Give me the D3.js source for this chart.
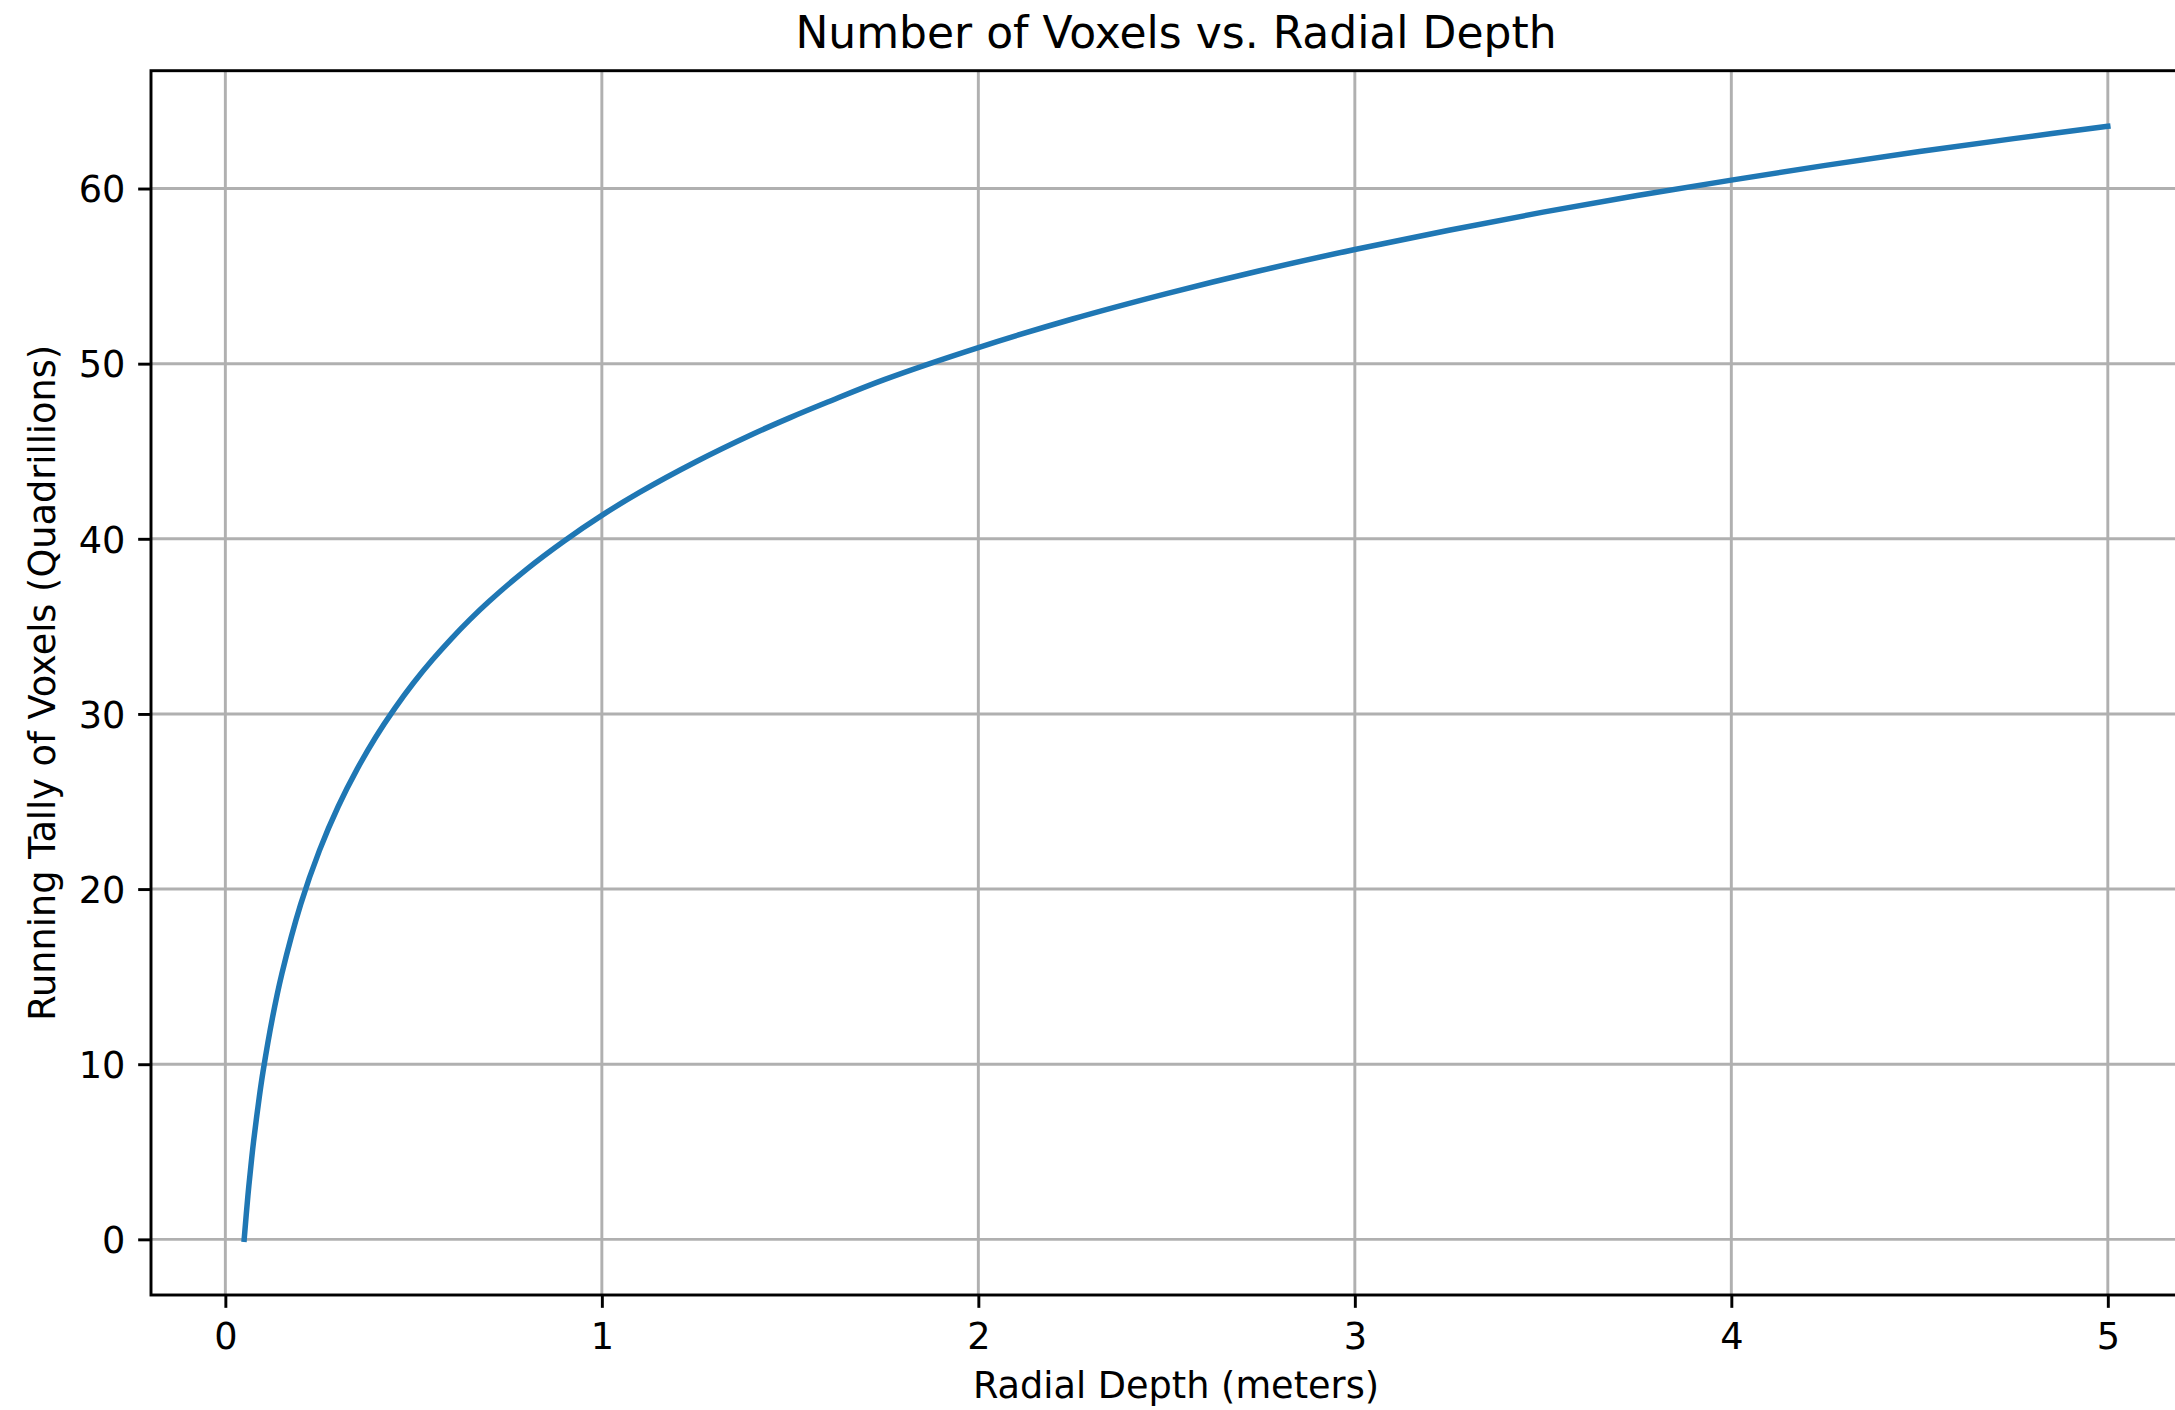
<!DOCTYPE html>
<html>
<head>
<meta charset="utf-8">
<script src="https://cdn.jsdelivr.net/npm/d3@7"></script>
<style>
  html, body { margin: 0; padding: 0; background: #fff; }
  svg { display: block; font-family: "DejaVu Sans", sans-serif; }
</style>
</head>
<body>
<svg class="main" width="2175" height="1410"></svg>
<script>
(function () {
  'use strict';

  // depth (m) vs running tally (quadrillions)
  const depths = [0.05, 0.06, 0.07, 0.075, 0.09, 0.1, 0.125, 0.15, 0.2, 0.25, 0.3, 0.35, 0.4,
    0.45, 0.5, 0.55, 0.6, 0.65, 0.7, 0.8, 0.9, 1.0, 1.1, 1.25, 1.4, 1.5, 1.6, 1.75,
    2.0, 2.25, 2.5, 2.75, 3.0, 3.25, 3.5, 3.75, 4.0, 4.25, 4.5, 4.75, 5.0];
  const tally = [0, 2.52, 4.64, 5.6, 8.11, 9.57, 12.64, 15.16, 19.13, 22.21, 24.73, 26.85, 28.7,
    30.32, 31.78, 33.09, 34.29, 35.4, 36.42, 38.26, 39.88, 41.34, 42.65, 44.4, 45.97, 46.92, 47.81, 49.09,
    50.92, 52.55, 54.0, 55.32, 56.52, 57.62, 58.65, 59.6, 60.48, 61.32, 62.11, 62.85, 63.55];
  const xTicks = [0, 1, 2, 3, 4, 5];
  const yTicks = [0, 10, 20, 30, 40, 50, 60];

  const title = "Number of Voxels vs. Radial Depth";
  const xLabel = "Radial Depth (meters)";
  const yLabel = "Running Tally of Voxels (Quadrillions)";

  const pt = 264 / 72; // px per point
  const margin = { left: 151, top: 70.7, right: 2201, bottom: 1295 };

  const points = depths.map((d, i) => ({ x: d, y: tally[i] }));

  // matplotlib style 5% padding
  const xPad = (d3.max(depths) - d3.min(depths)) * 0.05;
  const yPad = (d3.max(tally) - d3.min(tally)) * 0.05;

  const x = d3.scaleLinear()
    .domain([d3.min(depths) - xPad, d3.max(depths) + xPad])
    .range([margin.left, margin.right]);
  const y = d3.scaleLinear()
    .domain([d3.min(tally) - yPad, d3.max(tally) + yPad])
    .range([margin.bottom, margin.top]);

  const svg = d3.select("svg.main");
  const fontSize = 10 * pt;

  // grid
  const grid = svg.append("g")
    .attr("stroke", "#b0b0b0")
    .attr("stroke-width", 0.8 * pt);
  xTicks.forEach(t => {
    grid.append("line")
      .attr("x1", x(t)).attr("x2", x(t))
      .attr("y1", margin.top).attr("y2", margin.bottom);
  });
  yTicks.forEach(t => {
    grid.append("line")
      .attr("x1", margin.left).attr("x2", margin.right)
      .attr("y1", y(t)).attr("y2", y(t));
  });

  // the curve
  const line = d3.line()
    .x(d => x(d.x))
    .y(d => y(d.y))
    .curve(d3.curveCatmullRom.alpha(0.5));

  svg.append("path")
    .attr("d", line(points))
    .attr("fill", "none")
    .attr("stroke", "#1f77b4")
    .attr("stroke-width", 1.5 * pt)
    .attr("stroke-linecap", "square");

  // axes via d3
  const xAxis = d3.axisBottom(x)
    .tickValues(xTicks)
    .tickFormat(d3.format("d"))
    .tickSize(3.5 * pt)
    .tickPadding(3.5 * pt);
  const yAxis = d3.axisLeft(y)
    .tickValues(yTicks)
    .tickFormat(d3.format("d"))
    .tickSize(3.5 * pt)
    .tickPadding(3.5 * pt);

  const gx = svg.append("g")
    .attr("transform", `translate(0, ${margin.bottom})`)
    .call(xAxis);
  const gy = svg.append("g")
    .attr("transform", `translate(${margin.left}, 0)`)
    .call(yAxis);

  [gx, gy].forEach(g => {
    g.select(".domain").remove();
    g.selectAll(".tick line")
      .attr("stroke", "#000")
      .attr("stroke-width", 0.8 * pt);
    g.selectAll(".tick text")
      .attr("fill", "#000")
      .style("font-size", `${fontSize}px`)
      .style("font-family", "DejaVu Sans");
  });
  gx.selectAll(".tick text").attr("dy", "0.76em");
  gy.selectAll(".tick text").attr("dy", "0.36em");

  // frame
  svg.append("rect")
    .attr("x", margin.left)
    .attr("y", margin.top)
    .attr("width", margin.right - margin.left)
    .attr("height", margin.bottom - margin.top)
    .attr("fill", "none")
    .attr("stroke", "#000")
    .attr("stroke-width", 0.8 * pt);

  const cx = (margin.left + margin.right) / 2;

  svg.append("text")
    .text(title)
    .attr("x", cx)
    .attr("y", 48)
    .attr("text-anchor", "middle")
    .style("font-size", `${12 * pt}px`);

  svg.append("text")
    .text(xLabel)
    .attr("x", cx)
    .attr("y", 1398)
    .attr("text-anchor", "middle")
    .style("font-size", `${fontSize}px`);

  svg.append("text")
    .text(yLabel)
    .attr("transform", `translate(55, ${(margin.top + margin.bottom) / 2}) rotate(-90)`)
    .attr("text-anchor", "middle")
    .style("font-size", `${fontSize}px`);
}());
</script>
</body>
</html>
